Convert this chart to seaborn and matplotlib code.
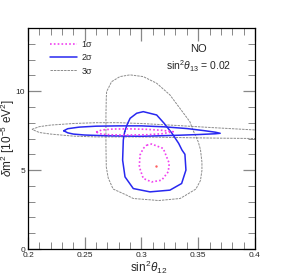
import numpy as np
import pandas as pd
import seaborn as sns
import matplotlib.pyplot as plt
from matplotlib.lines import Line2D

sns.set_style("ticks")
plt.rcParams['font.family'] = ['Liberation Sans', 'DejaVu Sans']
plt.rcParams['mathtext.fontset'] = 'custom'
plt.rcParams['mathtext.rm'] = 'Liberation Sans'
plt.rcParams['mathtext.it'] = 'Liberation Sans:italic'

# contour outlines: (sin^2 theta12, dm2 in 1e-5 eV^2)
# horizontal bands (reactor-like) and vertical blobs (solar-like)
h1_x = [0.260, 0.265, 0.275, 0.290, 0.305, 0.318, 0.328, 0.318, 0.305, 0.290, 0.275, 0.265, 0.260]
h1_y = [7.41, 7.54, 7.60, 7.61, 7.58, 7.52, 7.43, 7.30, 7.24, 7.22, 7.23, 7.27, 7.41]
v1_x = [0.3046, 0.309, 0.3192, 0.3245, 0.3236, 0.3178, 0.309, 0.3016, 0.2981, 0.2987, 0.3016, 0.3046]
v1_y = [6.58, 6.65, 6.37, 5.42, 4.89, 4.36, 4.25, 4.47, 5.20, 5.95, 6.37, 6.58]

h2_x = [0.2315, 0.235, 0.245, 0.26, 0.28, 0.30, 0.32, 0.34, 0.355, 0.365, 0.3694,
        0.365, 0.35, 0.33, 0.30, 0.27, 0.25, 0.24, 0.235, 0.2315]
h2_y = [7.49, 7.62, 7.72, 7.78, 7.80, 7.80, 7.74, 7.63, 7.50, 7.40, 7.33,
        7.30, 7.25, 7.20, 7.14, 7.17, 7.22, 7.28, 7.36, 7.49]
v2_x = [0.2852, 0.2875, 0.290, 0.2958, 0.3016, 0.3134, 0.320, 0.3269, 0.3328, 0.3357, 0.3383,
        0.3392, 0.3354, 0.3251, 0.3075, 0.2928, 0.2855, 0.2834, 0.2840, 0.2852]
v2_y = [7.43, 7.90, 8.28, 8.60, 8.70, 8.49, 7.96, 7.33, 6.69, 6.27, 6.00,
        5.00, 4.15, 3.73, 3.62, 3.83, 4.57, 5.63, 6.90, 7.43]

h3_x = [0.2035, 0.21, 0.22, 0.24, 0.26, 0.28, 0.30, 0.33, 0.36, 0.38, 0.40, 0.42,
        0.42, 0.40, 0.37, 0.34, 0.30, 0.26, 0.24, 0.22, 0.21, 0.2035]
h3_y = [7.58, 7.75, 7.85, 7.95, 8.00, 8.00, 7.95, 7.83, 7.70, 7.62, 7.54, 7.45,
        6.95, 7.00, 7.02, 7.05, 7.10, 7.10, 7.15, 7.28, 7.38, 7.58]
v3_x = [0.2690, 0.2693, 0.2737, 0.281, 0.2899, 0.3016, 0.3134, 0.3251, 0.3339, 0.3427, 0.345,
        0.3500, 0.352, 0.3533, 0.3533, 0.352, 0.348, 0.3386, 0.334, 0.315, 0.3104, 0.2928,
        0.287, 0.275, 0.2707, 0.2690, 0.2687, 0.2687, 0.2690]
v3_y = [9.60, 9.97, 10.60, 10.92, 11.03, 10.92, 10.50, 9.76, 8.91, 8.06, 7.60,
        6.80, 6.30, 5.50, 4.98, 4.34, 3.80, 3.39, 3.20, 3.07, 3.10, 3.20,
        3.41, 3.80, 4.50, 5.20, 6.50, 8.50, 9.60]

best_x = [0.3128]
best_y = [5.25]

c1, c2, c3 = '#f040f0', '#2828f0', '#8c8c8c'
ls1, ls2, ls3 = (0, (1, 1.3)), '-', (0, (2.5, 1))

fig = plt.figure(figsize=(2.84, 2.77), dpi=100)
ax = fig.add_axes([0.0986, 0.101, 0.799, 0.798])

for xs, ys, c, ls, lw in [(h3_x, h3_y, c3, ls3, 0.7), (v3_x, v3_y, c3, ls3, 0.7),
                          (h2_x, h2_y, c2, ls2, 1.1), (v2_x, v2_y, c2, ls2, 1.1),
                          (h1_x, h1_y, c1, ls1, 1.2), (v1_x, v1_y, c1, ls1, 1.2)]:
    d = pd.DataFrame({'x': xs, 'y': ys})
    sns.lineplot(data=d, x='x', y='y', sort=False, estimator=None, color=c,
                 linestyle=ls, linewidth=lw, ax=ax)

sns.scatterplot(x=best_x, y=best_y, color='#ff6060', s=3, linewidth=0, ax=ax)

# legend
handles = [Line2D([], [], color=c1, linestyle=ls1, lw=1.2),
           Line2D([], [], color=c2, linestyle=ls2, lw=1.1),
           Line2D([], [], color=c3, linestyle=ls3, lw=0.7)]
ax.legend(handles, ['1σ', '2σ', '3σ'], loc='upper left', bbox_to_anchor=(0.08, 0.96),
          frameon=False, fontsize=6.5, handlelength=3.0, handletextpad=0.5,
          labelspacing=0.45, borderaxespad=0)

ax.text(0.75, 0.905, 'NO', transform=ax.transAxes, ha='center', va='center', fontsize=8)
ax.text(0.75, 0.825, r'sin$^2\theta_{13}$ = 0.02', transform=ax.transAxes,
        ha='center', va='center', fontsize=7.5)

ax.set_xlim(0.2, 0.4)
ax.set_ylim(0, 14)
ax.set_xticks([0.2, 0.25, 0.3, 0.35, 0.4])
ax.set_xticklabels(['0.2', '0.25', '0.3', '0.35', '0.4'])
ax.set_xticks(np.arange(0.2, 0.4001, 0.01), minor=True)
ax.set_yticks([0, 5, 10])
ax.set_yticks(np.arange(0, 14.01, 1), minor=True)
ax.tick_params(which='both', direction='in', top=True, right=True, labelsize=6,
               color='#888888', pad=2)
ax.tick_params(which='major', length=9, width=0.9)
ax.tick_params(which='minor', length=5, width=0.7)
for s in ax.spines.values():
    s.set_linewidth(0.9)
    s.set_color('black')

ax.set_xlabel(r'sin$^2\theta_{12}$', fontsize=8.5)
ax.xaxis.set_label_coords(0.53, -0.045)
ax.set_ylabel(r'$\delta$m$^2$ [10$^{-5}$ eV$^2$]', fontsize=8.5)
ax.yaxis.set_label_coords(-0.048, 0.5)

fig.savefig('out.png', dpi=100)
